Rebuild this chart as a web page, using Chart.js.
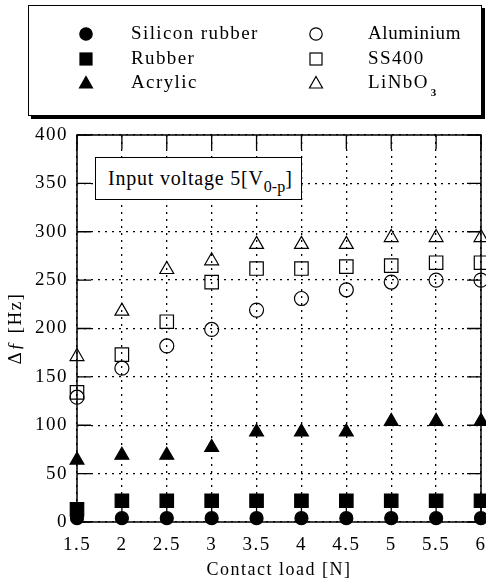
<!DOCTYPE html>
<html><head><meta charset="utf-8">
<script src="https://cdn.jsdelivr.net/npm/chart.js@4/dist/chart.umd.min.js"></script>
<style>
html,body{margin:0;padding:0;background:#fff;}
#wrap{position:relative;width:486px;height:584px;overflow:hidden;font-family:"Liberation Serif","Times New Roman",serif;color:#000;}
#c{position:absolute;left:0;top:0;}
#legend{position:absolute;left:28px;top:5px;width:452px;height:109px;border:1.5px solid #000;box-shadow:3px 3px 0 #000;background:#fff;}
.lt{position:absolute;font-size:19px;letter-spacing:1.4px;line-height:20px;white-space:nowrap;}
.lm{position:absolute;width:18px;height:18px;}
.lt sub{font-size:11px;font-weight:bold;vertical-align:-8px;margin-left:2px;}
#note{position:absolute;left:95px;top:157px;width:207px;height:43px;border:1px solid #000;background:#fff;box-sizing:border-box;font-size:20px;letter-spacing:0.8px;line-height:40px;padding-left:12px;white-space:nowrap;}
#note sub{font-size:16px;vertical-align:-7px;letter-spacing:0;}
</style></head>
<body>
<div id="wrap">
<canvas id="c" width="486" height="584"></canvas>
<div id="legend"></div>
<div id="note">Input voltage 5[V<sub>0-p</sub>]</div>
</div>
<script>
// ---- data ----
const loads = [1.5, 2, 2.5, 3, 3.5, 4, 4.5, 5, 5.5, 6];
const siliconRubber = [4, 4, 4, 4, 4, 4, 4, 4, 4, 4];
const rubber = [13, 22, 22, 22, 22, 22, 22, 22, 22, 22];
const acrylic = [64, 69, 69, 77, 93, 93, 93, 104, 104, 104];
const aluminium = [129, 159, 182, 199, 219, 231, 240, 248, 250, 250];
const ss400 = [134, 173, 207, 248, 262, 262, 264, 265, 268, 268];
const linbo3 = [171, 218, 261, 270, 287, 287, 287, 294, 294, 294];
const seriesNames = ["Silicon rubber", "Rubber", "Acrylic", "Aluminium", "SS400", "LiNbO3"];
const xTicks = [1.5, 2, 2.5, 3, 3.5, 4, 4.5, 5, 5.5, 6];
const yTicks = [0, 50, 100, 150, 200, 250, 300, 350, 400];

const FONT = "'Liberation Serif','Times New Roman',serif";
const toPts = arr => arr.map((v, i) => ({x: loads[i], y: v}));

function ds(label, values, style, radius, filled) {
  return {
    label, data: toPts(values), pointStyle: style, pointRadius: radius, pointHoverRadius: radius,
    pointBackgroundColor: filled ? '#000' : 'rgba(0,0,0,0)', pointBorderColor: '#000',
    pointBorderWidth: 1.2, showLine: false, clip: false
  };
}

// ---- legend (HTML) ----
const legendDefs = [
  {name: seriesNames[0], shape: 'circle', fill: true, mx: 85, tx: 130, y: 33},
  {name: seriesNames[1], shape: 'rect', fill: true, mx: 85, tx: 130, y: 58},
  {name: seriesNames[2], shape: 'tri', fill: true, mx: 85, tx: 130, y: 82},
  {name: seriesNames[3], shape: 'circle', fill: false, mx: 315, tx: 367, y: 33},
  {name: seriesNames[4], shape: 'rect', fill: false, mx: 315, tx: 367, y: 58},
  {name: seriesNames[5], shape: 'tri', fill: false, mx: 315, tx: 367, y: 82}
];
const legend = document.getElementById('legend');
legendDefs.forEach(d => {
  const f = d.fill ? '#000' : 'none';
  let shape = '';
  if (d.shape === 'circle') shape = `<circle cx="9" cy="9" r="6.2" fill="${f}" stroke="#000" stroke-width="1.2"/>`;
  else if (d.shape === 'rect') shape = `<rect x="3" y="3" width="12" height="12" fill="${f}" stroke="#000" stroke-width="1.2"/>`;
  else shape = `<polygon points="9,2.5 15.5,14 2.5,14" fill="${f}" stroke="#000" stroke-width="1.2"/>`;
  const m = document.createElement('div');
  m.className = 'lm';
  m.style.left = (d.mx - 28 - 9) + 'px';
  m.style.top = (d.y - 5 - 9) + 'px';
  m.innerHTML = `<svg width="18" height="18">${shape}</svg>`;
  legend.appendChild(m);
  const t = document.createElement('div');
  t.className = 'lt';
  t.style.left = (d.tx - 28) + 'px';
  t.style.top = (d.y - 5 - 11) + 'px';
  if (d.name === 'Aluminium') t.style.letterSpacing = '0.6px';
  t.innerHTML = d.name === 'LiNbO3' ? 'LiNbO<sub>3</sub>' : d.name;
  legend.appendChild(t);
});

// ---- plugins ----
const spacing = {
  id: 'spacing',
  beforeUpdate(chart) { chart.ctx.letterSpacing = '1.5px'; },
  beforeLayout(chart) { chart.ctx.letterSpacing = '1.5px'; },
  beforeDraw(chart) { chart.ctx.letterSpacing = '1.5px'; }
};
const frame = {
  id: 'frame',
  beforeDatasetsDraw(chart) {
    const {ctx, chartArea: a, scales: {x, y}} = chart;
    ctx.save();
    ctx.strokeStyle = '#000';
    ctx.lineWidth = 1.5;
    ctx.strokeRect(a.left, a.top, a.right - a.left, a.bottom - a.top);
    ctx.lineWidth = 1.3;
    const L = 14;
    ctx.beginPath();
    xTicks.forEach(v => {
      const px = x.getPixelForValue(v);
      ctx.moveTo(px, a.top); ctx.lineTo(px, a.top + L);
      ctx.moveTo(px, a.bottom); ctx.lineTo(px, a.bottom - L);
    });
    yTicks.forEach(v => {
      const py = y.getPixelForValue(v);
      ctx.moveTo(a.left, py); ctx.lineTo(a.left + L, py);
      ctx.moveTo(a.right, py); ctx.lineTo(a.right - L, py);
    });
    ctx.stroke();
    ctx.restore();
  }
};
const zeroPad = s => { s.paddingLeft = 0; s.paddingRight = 0; s.paddingTop = 0; s.paddingBottom = 0; };

new Chart(document.getElementById('c'), {
  type: 'scatter',
  data: {
    datasets: [
      ds(seriesNames[0], siliconRubber, 'circle', 6.5, true),
      ds(seriesNames[1], rubber, 'rect', 9.5, true),
      ds(seriesNames[2], acrylic, 'triangle', 8, true),
      ds(seriesNames[3], aluminium, 'circle', 7, false),
      ds(seriesNames[4], ss400, 'rect', 9.5, false),
      ds(seriesNames[5], linbo3, 'triangle', 8, false)
    ]
  },
  options: {
    responsive: false,
    animation: false,
    devicePixelRatio: 1,
    layout: {autoPadding: false, padding: {top: 135, right: 5, left: 0, bottom: 0}},
    plugins: {legend: {display: false}, tooltip: {enabled: false}},
    scales: {
      x: {
        type: 'linear', min: 1.5, max: 6,
        afterFit: s => { s.height = 62; zeroPad(s); },
        afterBuildTicks: s => { s.ticks = xTicks.map(v => ({value: v})); },
        ticks: {color: '#000', padding: 12, font: {family: FONT, size: 19}, callback: v => String(v)},
        grid: {color: '#000', lineWidth: 1.3, drawTicks: false},
        border: {display: false, dash: [2, 5]},
        title: {display: true, text: 'Contact load [N]', color: '#000', font: {family: FONT, size: 18}, padding: {top: 0, bottom: 3}}
      },
      y: {
        type: 'linear', min: 0, max: 400,
        afterFit: s => { s.width = 77; zeroPad(s); },
        afterBuildTicks: s => { s.ticks = yTicks.map(v => ({value: v})); },
        ticks: {color: '#000', padding: 9, font: {family: FONT, size: 19}},
        grid: {color: '#000', lineWidth: 1.3, drawTicks: false},
        border: {display: false, dash: [2, 5]},
        title: {display: true, text: 'Δƒ [Hz]', color: '#000', font: {family: FONT, size: 19}, padding: {top: 5, bottom: 0}}
      }
    }
  },
  plugins: [spacing, frame]
});
</script>
</body></html>
